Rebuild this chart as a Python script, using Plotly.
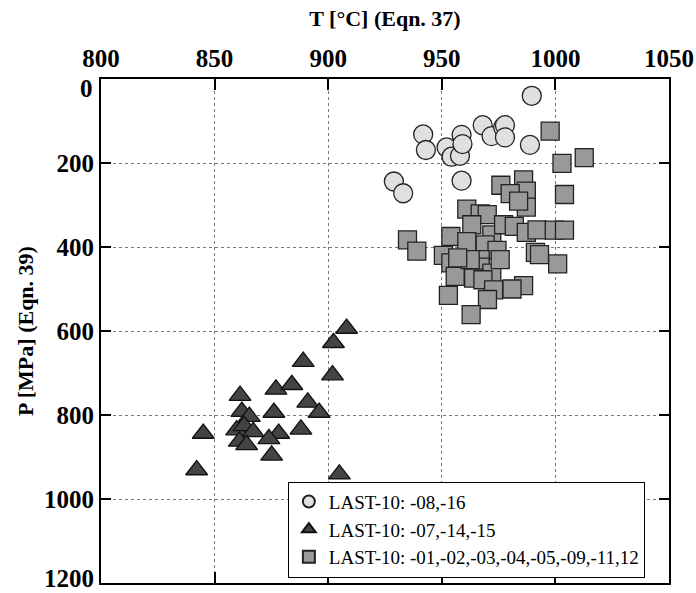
import plotly.graph_objects as go

# --- data ---
circ_T = [989.6, 941.8, 943.0, 952.1, 958.7, 954.3, 958.0, 959.1, 968.0, 971.9,
          977.0, 977.8, 977.8, 988.8, 958.7, 928.9, 933.0]
circ_P = [40, 132, 169, 163, 133, 185, 183, 155, 110, 136,
          115, 110, 139, 157, 242, 244, 272]

tri_T = [908.1, 902.3, 889.0, 901.9, 861.2, 877.0, 884.0, 862.0, 865.3, 876.1,
         891.0, 896.0, 845.0, 859.7, 863.0, 867.0, 878.2, 888.0, 860.9, 864.1,
         873.9, 875.1, 842.1, 904.9]
tri_P = [594, 628, 673, 705, 754, 739, 728, 792, 804, 794,
         770, 794, 844, 836, 826, 840, 844, 834, 863, 871,
         857, 896, 931, 941]

sq_T = [997.7, 1002.9, 1012.7, 1004.0, 986.0, 976.0, 987.2, 980.1, 987.2, 983.8,
        961.0, 966.9, 970.0, 963.2, 972.0, 977.2, 981.9, 987.2, 991.9, 999.5,
        1004.0, 934.9, 939.0, 954.0, 961.0, 969.1, 974.3, 950.7, 954.0, 966.9,
        991.2, 993.0, 1001.0, 961.0, 966.9, 972.0, 955.9, 964.0, 968.1, 972.8,
        986.0, 980.9, 952.9, 970.1, 962.9, 975.7, 962.5, 957.0]
sq_P = [124, 201, 187, 275, 240, 253, 267, 273, 305, 291,
        310, 321, 323, 347, 371, 347, 351, 365, 359, 360,
        360, 383, 410, 375, 387, 395, 408, 420, 438, 430,
        413, 418, 440, 446, 448, 462, 470, 474, 478, 502,
        492, 500, 515, 525, 561, 430, 430, 426]

labels = ["LAST-10: -08,-16", "LAST-10: -07,-14,-15",
          "LAST-10: -01,-02,-03,-04,-05,-09,-11,12"]

x_ticks = [800, 850, 900, 950, 1000, 1050]
y_ticks = [0, 200, 400, 600, 800, 1000, 1200]
# the end labels "0" and "1200" are drawn as annotations, nudged inside the page
y_ticktext = ["", "200", "400", "600", "800", "1000", ""]

FONT = "Liberation Serif, Times New Roman, serif"
TICK_SIZE = 25

fig = go.Figure()
fig.add_trace(go.Scatter(x=circ_T, y=circ_P, mode="markers", name=labels[0],
                         marker=dict(symbol="circle", size=19, color="#e0e0e0",
                                     line=dict(color="#222222", width=1.3))))
fig.add_trace(go.Scatter(x=tri_T, y=tri_P, mode="markers", name=labels[1],
                         marker=dict(symbol="triangle-up", size=19, color="#444444",
                                     line=dict(color="#111111", width=1.3))))
fig.add_trace(go.Scatter(x=sq_T, y=sq_P, mode="markers", name=labels[2],
                         marker=dict(symbol="square", size=18, color="#999999",
                                     line=dict(color="#222222", width=1.3))))

fig.add_annotation(xref="paper", yref="y", x=0, y=y_ticks[0], text="<b>0</b>",
                   showarrow=False, xanchor="right", yanchor="middle",
                   xshift=-6, yshift=-9,
                   font=dict(family=FONT, size=TICK_SIZE, color="black"))
fig.add_annotation(xref="paper", yref="paper", x=0, y=0, text="<b>1200</b>",
                   showarrow=False, xanchor="right", yanchor="bottom",
                   xshift=-6, yshift=-10, borderpad=0,
                   font=dict(family=FONT, size=TICK_SIZE, color="black"))

fig.update_layout(
    width=696, height=593,
    margin=dict(l=101, r=27, t=79, b=10, autoexpand=False),
    paper_bgcolor="white", plot_bgcolor="white",
    font=dict(family=FONT, color="black"),
    showlegend=True,
    legend=dict(x=0.329, y=0.106, xanchor="left", yanchor="middle",
                bgcolor="white", bordercolor="black", borderwidth=1,
                font=dict(family=FONT, size=19, color="black"),
                itemsizing="constant", tracegroupgap=0),
    xaxis=dict(side="top", range=[800, 1050], tickvals=x_ticks,
               ticks="inside", ticklen=11, tickwidth=2, tickcolor="black",
               showline=True, linecolor="black", linewidth=2, mirror="ticks",
               showgrid=True, gridcolor="#777777", griddash="dot", gridwidth=1,
               zeroline=False, automargin=False, ticklabeloverflow="allow",
               tickfont=dict(family=FONT, size=TICK_SIZE, color="black", weight="bold"),
               title=dict(text="<b>T [°C] (Eqn. 37)</b>", standoff=12,
                          font=dict(family=FONT, size=22, color="black"))),
    yaxis=dict(range=[1200, 0], tickvals=y_ticks, ticktext=y_ticktext,
               ticks="inside", ticklen=10, tickwidth=2, tickcolor="black",
               showline=True, linecolor="black", linewidth=2, mirror="ticks",
               showgrid=True, gridcolor="#777777", griddash="dot", gridwidth=1,
               zeroline=False, automargin=False, ticklabeloverflow="allow",
               tickfont=dict(family=FONT, size=TICK_SIZE, color="black", weight="bold"),
               title=dict(text="<b>P [MPa] (Eqn. 39)</b>", standoff=4,
                          font=dict(family=FONT, size=22, color="black"))),
)

fig.write_html("out.html")
